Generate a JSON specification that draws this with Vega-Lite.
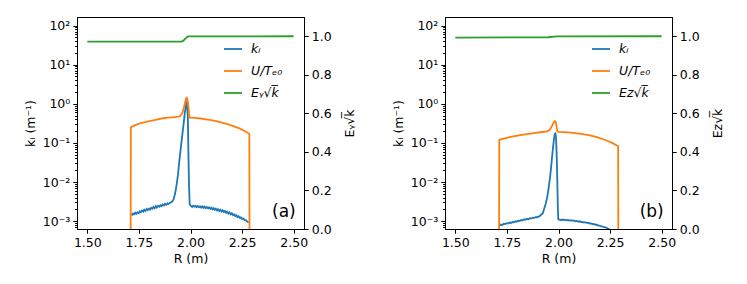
{
  "$schema": "https://vega.github.io/schema/vega-lite/v6.json",
  "padding": {"left": 23, "top": 16, "right": 0, "bottom": 0},
  "background": "white",
  "config": {
    "font": "DejaVu Sans",
    "view": {"stroke": "black", "strokeWidth": 1},
    "axis": {"grid": false, "domainColor": "black", "tickColor": "black", "labelColor": "black", "titleColor": "black", "labelFont": "DejaVu Sans", "titleFont": "DejaVu Sans", "labelFontSize": 12.5, "titleFontSize": 12.5, "titleFontWeight": "normal", "tickSize": 4.2, "labelPadding": 3, "labelFlush": false, "labelOverlap": false},
    "legend": {"labelFont": "DejaVu Sans", "labelFontSize": 12.5, "labelFontStyle": "italic", "labelColor": "black", "symbolType": "stroke", "symbolSize": 324, "symbolStrokeWidth": 1.8, "rowPadding": 5, "labelOffset": 8, "padding": 0}
  },
  "datasets": {
    "a_k": [{"R":1.715,"v":0.0014},{"R":1.721,"v":0.00156},{"R":1.726,"v":0.00149},{"R":1.732,"v":0.00165},{"R":1.737,"v":0.00154},{"R":1.743,"v":0.00168},{"R":1.749,"v":0.0016},{"R":1.754,"v":0.00178},{"R":1.76,"v":0.0017},{"R":1.765,"v":0.00186},{"R":1.771,"v":0.00176},{"R":1.776,"v":0.00196},{"R":1.782,"v":0.00184},{"R":1.788,"v":0.00205},{"R":1.793,"v":0.00192},{"R":1.799,"v":0.0021},{"R":1.804,"v":0.00198},{"R":1.81,"v":0.0022},{"R":1.815,"v":0.00208},{"R":1.821,"v":0.0023},{"R":1.826,"v":0.00215},{"R":1.832,"v":0.00242},{"R":1.837,"v":0.00224},{"R":1.843,"v":0.00248},{"R":1.849,"v":0.00234},{"R":1.854,"v":0.00256},{"R":1.86,"v":0.00242},{"R":1.865,"v":0.00266},{"R":1.871,"v":0.00252},{"R":1.876,"v":0.00276},{"R":1.882,"v":0.00262},{"R":1.888,"v":0.00284},{"R":1.893,"v":0.00275},{"R":1.899,"v":0.00292},{"R":1.905,"v":0.00302},{"R":1.911,"v":0.00315},{"R":1.918,"v":0.0036},{"R":1.925,"v":0.005},{"R":1.932,"v":0.008},{"R":1.939,"v":0.015},{"R":1.946,"v":0.035},{"R":1.953,"v":0.075},{"R":1.96,"v":0.155},{"R":1.967,"v":0.32},{"R":1.973,"v":0.62},{"R":1.978,"v":0.88},{"R":1.981,"v":1.0},{"R":1.984,"v":0.88},{"R":1.987,"v":0.46},{"R":1.99,"v":0.05},{"R":1.993,"v":0.008},{"R":1.996,"v":0.0027},{"R":2.002,"v":0.00245},{"R":2.008,"v":0.0023},{"R":2.013,"v":0.00248},{"R":2.019,"v":0.00234},{"R":2.024,"v":0.00246},{"R":2.03,"v":0.00228},{"R":2.035,"v":0.00244},{"R":2.041,"v":0.00226},{"R":2.046,"v":0.0024},{"R":2.052,"v":0.00222},{"R":2.057,"v":0.00238},{"R":2.063,"v":0.00218},{"R":2.068,"v":0.00234},{"R":2.074,"v":0.00216},{"R":2.079,"v":0.0023},{"R":2.085,"v":0.00212},{"R":2.09,"v":0.00226},{"R":2.096,"v":0.00206},{"R":2.101,"v":0.0022},{"R":2.107,"v":0.002},{"R":2.112,"v":0.00214},{"R":2.118,"v":0.00195},{"R":2.123,"v":0.00208},{"R":2.129,"v":0.00188},{"R":2.134,"v":0.00202},{"R":2.14,"v":0.00182},{"R":2.145,"v":0.00196},{"R":2.151,"v":0.00176},{"R":2.156,"v":0.0019},{"R":2.162,"v":0.0017},{"R":2.167,"v":0.00182},{"R":2.173,"v":0.00163},{"R":2.178,"v":0.00175},{"R":2.184,"v":0.00156},{"R":2.189,"v":0.00167},{"R":2.195,"v":0.00149},{"R":2.2,"v":0.00159},{"R":2.206,"v":0.00142},{"R":2.211,"v":0.0015},{"R":2.217,"v":0.00134},{"R":2.222,"v":0.00142},{"R":2.228,"v":0.00127},{"R":2.233,"v":0.00133},{"R":2.239,"v":0.00121},{"R":2.244,"v":0.00125},{"R":2.25,"v":0.00114},{"R":2.256,"v":0.00116},{"R":2.262,"v":0.00106},{"R":2.268,"v":0.00106},{"R":2.274,"v":0.00098},{"R":2.282,"v":0.00092}],
    "a_u": [{"R":1.5,"v":0.000001},{"R":1.709,"v":0.000001},{"R":1.711,"v":0.25},{"R":1.73,"v":0.28},{"R":1.75,"v":0.31},{"R":1.775,"v":0.335},{"R":1.8,"v":0.36},{"R":1.831,"v":0.39},{"R":1.86,"v":0.42},{"R":1.89,"v":0.44},{"R":1.912,"v":0.45},{"R":1.93,"v":0.46},{"R":1.945,"v":0.47},{"R":1.955,"v":0.52},{"R":1.962,"v":0.61},{"R":1.968,"v":0.8},{"R":1.974,"v":1.1},{"R":1.979,"v":1.38},{"R":1.982,"v":1.42},{"R":1.985,"v":1.3},{"R":1.988,"v":1.05},{"R":1.991,"v":0.75},{"R":1.994,"v":0.5},{"R":1.996,"v":0.44},{"R":2.02,"v":0.435},{"R":2.05,"v":0.42},{"R":2.074,"v":0.4},{"R":2.1,"v":0.38},{"R":2.13,"v":0.355},{"R":2.156,"v":0.325},{"R":2.18,"v":0.3},{"R":2.21,"v":0.265},{"R":2.237,"v":0.235},{"R":2.26,"v":0.205},{"R":2.285,"v":0.172},{"R":2.287,"v":0.000001},{"R":2.5,"v":0.000001}],
    "a_e": [{"R":1.5,"v":0.972},{"R":1.955,"v":0.972},{"R":1.962,"v":0.975},{"R":1.97,"v":0.982},{"R":1.978,"v":0.99},{"R":1.985,"v":0.997},{"R":1.99,"v":0.999},{"R":2.5,"v":1.0}],
    "b_k": [{"R":1.714,"v":0.00076},{"R":1.721,"v":0.00082},{"R":1.728,"v":0.0008},{"R":1.735,"v":0.00086},{"R":1.742,"v":0.00084},{"R":1.749,"v":0.00089},{"R":1.756,"v":0.00087},{"R":1.763,"v":0.00092},{"R":1.77,"v":0.0009},{"R":1.777,"v":0.00095},{"R":1.784,"v":0.00093},{"R":1.791,"v":0.00099},{"R":1.798,"v":0.00097},{"R":1.805,"v":0.00103},{"R":1.812,"v":0.00101},{"R":1.819,"v":0.00107},{"R":1.826,"v":0.00104},{"R":1.833,"v":0.00111},{"R":1.84,"v":0.00108},{"R":1.847,"v":0.00115},{"R":1.854,"v":0.00112},{"R":1.861,"v":0.00119},{"R":1.868,"v":0.00116},{"R":1.875,"v":0.00123},{"R":1.882,"v":0.00121},{"R":1.889,"v":0.00127},{"R":1.896,"v":0.00126},{"R":1.903,"v":0.00131},{"R":1.91,"v":0.00136},{"R":1.917,"v":0.00148},{"R":1.924,"v":0.0016},{"R":1.931,"v":0.0021},{"R":1.938,"v":0.0028},{"R":1.945,"v":0.004},{"R":1.952,"v":0.007},{"R":1.959,"v":0.013},{"R":1.966,"v":0.03},{"R":1.972,"v":0.065},{"R":1.978,"v":0.125},{"R":1.982,"v":0.17},{"R":1.985,"v":0.175},{"R":1.988,"v":0.13},{"R":1.991,"v":0.055},{"R":1.994,"v":0.012},{"R":1.997,"v":0.002},{"R":1.999,"v":0.00112},{"R":2.004,"v":0.0011},{"R":2.011,"v":0.00107},{"R":2.018,"v":0.0011},{"R":2.025,"v":0.00106},{"R":2.032,"v":0.00109},{"R":2.039,"v":0.00105},{"R":2.046,"v":0.00107},{"R":2.053,"v":0.00103},{"R":2.06,"v":0.00106},{"R":2.067,"v":0.00102},{"R":2.074,"v":0.00104},{"R":2.081,"v":0.00099},{"R":2.088,"v":0.00101},{"R":2.095,"v":0.00097},{"R":2.102,"v":0.00099},{"R":2.109,"v":0.00095},{"R":2.116,"v":0.00096},{"R":2.123,"v":0.00092},{"R":2.13,"v":0.00094},{"R":2.137,"v":0.0009},{"R":2.144,"v":0.00091},{"R":2.151,"v":0.00087},{"R":2.158,"v":0.00088},{"R":2.165,"v":0.00084},{"R":2.172,"v":0.00085},{"R":2.179,"v":0.00081},{"R":2.186,"v":0.00081},{"R":2.193,"v":0.00077},{"R":2.2,"v":0.00077},{"R":2.207,"v":0.00074},{"R":2.214,"v":0.00073},{"R":2.221,"v":0.0007},{"R":2.228,"v":0.00069},{"R":2.235,"v":0.00066},{"R":2.242,"v":0.00064},{"R":2.249,"v":0.0006},{"R":2.256,"v":0.00057}],
    "b_u": [{"R":1.5,"v":0.000001},{"R":1.711,"v":0.000001},{"R":1.713,"v":0.12},{"R":1.75,"v":0.135},{"R":1.78,"v":0.147},{"R":1.83,"v":0.162},{"R":1.88,"v":0.178},{"R":1.92,"v":0.19},{"R":1.944,"v":0.198},{"R":1.955,"v":0.21},{"R":1.963,"v":0.24},{"R":1.971,"v":0.29},{"R":1.978,"v":0.34},{"R":1.982,"v":0.36},{"R":1.986,"v":0.35},{"R":1.989,"v":0.3},{"R":1.992,"v":0.24},{"R":1.995,"v":0.2},{"R":1.998,"v":0.19},{"R":2.03,"v":0.188},{"R":2.07,"v":0.18},{"R":2.11,"v":0.17},{"R":2.153,"v":0.155},{"R":2.19,"v":0.138},{"R":2.234,"v":0.115},{"R":2.26,"v":0.1},{"R":2.289,"v":0.082},{"R":2.291,"v":0.000001},{"R":2.5,"v":0.000001}],
    "b_e": [{"R":1.5,"v":0.993},{"R":1.95,"v":0.995},{"R":1.99,"v":0.999},{"R":2.5,"v":1.0}]
  },
  "hconcat": [
    {
      "width": 227, "height": 212,
      "layer": [
        {
          "layer": [
            {"data": {"name": "a_k"}, "mark": {"type": "line", "clip": true, "strokeWidth": 1.8},
             "encoding": {
               "x": {"field": "R", "type": "quantitative", "scale": {"domain": [1.45, 2.55], "nice": false, "zero": false}, "axis": {"values": [1.5, 1.75, 2, 2.25, 2.5], "format": ".2f", "title": "R (m)", "titlePadding": 4}},
               "y": {"field": "v", "type": "quantitative", "scale": {"type": "log", "domain": [0.00063, 165], "nice": false}, "axis": {"values": [0.0007,0.0008,0.0009,0.001,0.002,0.003,0.004,0.005,0.006,0.007,0.008,0.009,0.01,0.02,0.03,0.04,0.05,0.06,0.07,0.08,0.09,0.1,0.2,0.3,0.4,0.5,0.6,0.7,0.8,0.9,1,2,3,4,5,6,7,8,9,10,20,30,40,50,60,70,80,90,100], "title": "kᵢ (m⁻¹)", "titlePadding": 5, "labelExpr": "abs(log(datum.value)/LN10 - round(log(datum.value)/LN10)) > 0.001 ? '' : round(log(datum.value)/LN10) == 2 ? '10²' : round(log(datum.value)/LN10) == 1 ? '10¹' : round(log(datum.value)/LN10) == 0 ? '10⁰' : round(log(datum.value)/LN10) == -1 ? '10⁻¹' : round(log(datum.value)/LN10) == -2 ? '10⁻²' : '10⁻³'", "tickSize": {"condition": {"test": "abs(log(datum.value)/LN10 - round(log(datum.value)/LN10)) > 0.001", "value": 2.4}, "value": 4.2}}},
               "color": {"datum": "kᵢ", "type": "nominal", "scale": {"domain": ["kᵢ", "U/Tₑ₀", "Eᵧ√k̅"], "range": ["#1f77b4", "#ff7f0e", "#2ca02c"]}, "legend": {"orient": "none", "legendX": 146, "legendY": 22, "title": null}}
             }},
            {"data": {"name": "a_u"}, "mark": {"type": "line", "clip": true, "strokeWidth": 1.8},
             "encoding": {
               "x": {"field": "R", "type": "quantitative"},
               "y": {"field": "v", "type": "quantitative"},
               "color": {"datum": "U/Tₑ₀", "type": "nominal"}
             }}
          ]
        },
        {
          "layer": [
            {"data": {"name": "a_e"}, "mark": {"type": "line", "clip": true, "strokeWidth": 1.8},
             "encoding": {
               "x": {"field": "R", "type": "quantitative"},
               "y": {"field": "v", "type": "quantitative", "scale": {"domain": [0, 1.1], "nice": false}, "axis": {"orient": "right", "values": [0, 0.2, 0.4, 0.6, 0.8, 1.0], "format": ".1f", "title": "Eᵧ√k̅", "titleAngle": 270, "titleBaseline": "top", "titlePadding": 12}},
               "color": {"datum": "Eᵧ√k̅", "type": "nominal"}
             }},
            {"data": {"values": [{"R": 2.51, "v": 0.086, "t": "(a)"}]}, "mark": {"type": "text", "align": "right", "baseline": "middle", "fontSize": 17, "font": "DejaVu Sans", "color": "black"},
             "encoding": {
               "x": {"field": "R", "type": "quantitative"},
               "y": {"field": "v", "type": "quantitative"},
               "text": {"field": "t"}
             }}
          ]
        }
      ],
      "resolve": {"scale": {"y": "independent"}}
    },
    {
      "width": 227, "height": 212,
      "layer": [
        {
          "layer": [
            {"data": {"name": "b_k"}, "mark": {"type": "line", "clip": true, "strokeWidth": 1.8},
             "encoding": {
               "x": {"field": "R", "type": "quantitative", "scale": {"domain": [1.45, 2.55], "nice": false, "zero": false}, "axis": {"values": [1.5, 1.75, 2, 2.25, 2.5], "format": ".2f", "title": "R (m)", "titlePadding": 4}},
               "y": {"field": "v", "type": "quantitative", "scale": {"type": "log", "domain": [0.00063, 165], "nice": false}, "axis": {"values": [0.0007,0.0008,0.0009,0.001,0.002,0.003,0.004,0.005,0.006,0.007,0.008,0.009,0.01,0.02,0.03,0.04,0.05,0.06,0.07,0.08,0.09,0.1,0.2,0.3,0.4,0.5,0.6,0.7,0.8,0.9,1,2,3,4,5,6,7,8,9,10,20,30,40,50,60,70,80,90,100], "title": "kᵢ (m⁻¹)", "titlePadding": 5, "labelExpr": "abs(log(datum.value)/LN10 - round(log(datum.value)/LN10)) > 0.001 ? '' : round(log(datum.value)/LN10) == 2 ? '10²' : round(log(datum.value)/LN10) == 1 ? '10¹' : round(log(datum.value)/LN10) == 0 ? '10⁰' : round(log(datum.value)/LN10) == -1 ? '10⁻¹' : round(log(datum.value)/LN10) == -2 ? '10⁻²' : '10⁻³'", "tickSize": {"condition": {"test": "abs(log(datum.value)/LN10 - round(log(datum.value)/LN10)) > 0.001", "value": 2.4}, "value": 4.2}}},
               "color": {"datum": "kᵢ", "type": "nominal", "scale": {"domain": ["kᵢ", "U/Tₑ₀", "Ez√k̅"], "range": ["#1f77b4", "#ff7f0e", "#2ca02c"]}, "legend": {"orient": "none", "legendX": 146, "legendY": 22, "title": null}}
             }},
            {"data": {"name": "b_u"}, "mark": {"type": "line", "clip": true, "strokeWidth": 1.8},
             "encoding": {
               "x": {"field": "R", "type": "quantitative"},
               "y": {"field": "v", "type": "quantitative"},
               "color": {"datum": "U/Tₑ₀", "type": "nominal"}
             }}
          ]
        },
        {
          "layer": [
            {"data": {"name": "b_e"}, "mark": {"type": "line", "clip": true, "strokeWidth": 1.8},
             "encoding": {
               "x": {"field": "R", "type": "quantitative"},
               "y": {"field": "v", "type": "quantitative", "scale": {"domain": [0, 1.1], "nice": false}, "axis": {"orient": "right", "values": [0, 0.2, 0.4, 0.6, 0.8, 1.0], "format": ".1f", "title": "Ez√k̅", "titleAngle": 270, "titleBaseline": "top", "titlePadding": 12}},
               "color": {"datum": "Ez√k̅", "type": "nominal"}
             }},
            {"data": {"values": [{"R": 2.51, "v": 0.086, "t": "(b)"}]}, "mark": {"type": "text", "align": "right", "baseline": "middle", "fontSize": 17, "font": "DejaVu Sans", "color": "black"},
             "encoding": {
               "x": {"field": "R", "type": "quantitative"},
               "y": {"field": "v", "type": "quantitative"},
               "text": {"field": "t"}
             }}
          ]
        }
      ],
      "resolve": {"scale": {"y": "independent"}}
    }
  ],
  "spacing": 141,
  "bounds": "flush",
  "resolve": {"legend": {"color": "independent"}, "scale": {"color": "independent"}}
}
